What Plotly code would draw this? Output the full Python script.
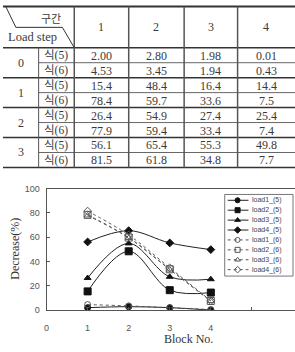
import plotly.graph_objects as go

# ---------------- data ----------------
blocks = [1, 2, 3, 4]
block_headers = ["1", "2", "3", "4"]
load_steps = ["0", "1", "2", "3"]
formula_labels = ["식(5)", "식(6)"]
corner_top = "구간"
corner_bottom = "Load step"

load1_eq5 = [2.00, 2.80, 1.98, 0.01]
load2_eq5 = [15.4, 48.4, 16.4, 14.4]
load3_eq5 = [26.4, 54.9, 27.4, 25.4]
load4_eq5 = [56.1, 65.4, 55.3, 49.8]
load1_eq6 = [4.53, 3.45, 1.94, 0.43]
load2_eq6 = [78.4, 59.7, 33.6, 7.5]
load3_eq6 = [77.9, 59.4, 33.4, 7.4]
load4_eq6 = [81.5, 61.8, 34.8, 7.7]

series_names = ["load1_(5)", "load2_(5)", "load3_(5)", "load4_(5)",
                "load1_(6)", "load2_(6)", "load3_(6)", "load4_(6)"]
series_values = [load1_eq5, load2_eq5, load3_eq5, load4_eq5,
                 load1_eq6, load2_eq6, load3_eq6, load4_eq6]
row_decimals = [2, 1, 1, 1]

x_ticks = [0, 1, 2, 3, 4, 5]
x_ticktext = ["0", "1", "2", "3", "4", ""]
y_ticks = [0, 20, 40, 60, 80, 100]

# ---------------- styles ----------------
W, H = 295, 352
symbols_eq5 = ["circle", "square", "triangle-up", "diamond"]
symbols_eq6 = ["circle-open", "square-open", "triangle-up-open", "diamond-open"]
sizes = [6, 7, 6, 6]
SERIF = "Liberation Serif, Noto Sans CJK KR, serif"
SANS = "Liberation Sans, Arial, sans-serif"
line_dark = "#222222"
line_dot = "#555555"
table_text = "#3a3a3a"

fig = go.Figure()

# main chart traces
for i, (name, vals) in enumerate(zip(series_names, series_values)):
    eq5 = i < 4
    k = i % 4
    fig.add_trace(go.Scatter(
        x=blocks, y=vals, name=name, mode="lines+markers",
        line=dict(shape="spline", smoothing=1.0, width=1,
                  color=line_dark if eq5 else line_dot,
                  dash="solid" if eq5 else "dot"),
        marker=dict(symbol=symbols_eq5[k] if eq5 else symbols_eq6[k],
                    size=sizes[k],
                    color="#111111" if eq5 else "#555555",
                    line=dict(width=1, color="#111111" if eq5 else "#555555")),
        xaxis="x", yaxis="y", showlegend=False))

# ---------------- pixel overlay axis (for table + legend) ----------------
shapes = []
annotations = []


def hline(y, x0, x1, w=1, c="#444444"):
    shapes.append(dict(type="line", xref="x2", yref="y2", x0=x0, x1=x1, y0=y, y1=y,
                       line=dict(color=c, width=w)))


def vline(x, y0, y1, w=1, c="#444444"):
    shapes.append(dict(type="line", xref="x2", yref="y2", x0=x, x1=x, y0=y0, y1=y1,
                       line=dict(color=c, width=w)))


def text(x, y, s, size=12, family=SERIF, color=table_text, xanchor="center"):
    annotations.append(dict(xref="x2", yref="y2", x=x, y=y, text=s, showarrow=False,
                            xanchor=xanchor, yanchor="middle",
                            font=dict(size=size, family=family, color=color)))


# table geometry
t_top, t_head = 1.5, 44.0
row_h = 15.4
col_edges = [0, 36, 72, 127, 183, 237, 295]
n_rows = 8
t_bot = t_head + row_h * n_rows

hline(t_top, 0, W, 2, "#333333")
hline(t_head, 0, W, 1.5, "#333333")
for r in range(1, n_rows + 1):
    y = t_head + r * row_h
    if r % 2 == 0:
        hline(y, 0, W, 1.5, "#333333")
    else:
        hline(y, col_edges[1], W, 1, "#666666")
vline(col_edges[1], t_head, t_bot, 1, "#555555")
for cx in col_edges[2:6]:
    vline(cx, t_top, t_bot, 1.5, "#555555")

# split header
shapes.append(dict(type="path", xref="x2", yref="y2",
                   path="M 3,2 L 13,23 L 60,23 L 72,44",
                   line=dict(color="#333333", width=1)))
text(48, 14, corner_top, size=11)
text(30, 33, corner_bottom, size=12.5)

for j, h in enumerate(block_headers):
    text((col_edges[j + 2] + col_edges[j + 3]) / 2, 23, h, size=12)

eq5_rows = [load1_eq5, load2_eq5, load3_eq5, load4_eq5]
eq6_rows = [load1_eq6, load2_eq6, load3_eq6, load4_eq6]
for g, step in enumerate(load_steps):
    y0 = t_head + g * 2 * row_h
    text(18, y0 + row_h, step, size=12)
    for s, rows in enumerate([eq5_rows, eq6_rows]):
        yc = y0 + s * row_h + row_h / 2 + 0.5
        text(54, yc, formula_labels[s], size=11.5)
        for j, v in enumerate(rows[g]):
            text((col_edges[j + 2] + col_edges[j + 3]) / 2, yc,
                 f"{v:.{row_decimals[g]}f}", size=12)

# legend (drawn on pixel axis)
lg_x0, lg_x1, lg_y0, lg_y1 = 224, 293, 195, 279
shapes.append(dict(type="rect", xref="x2", yref="y2", x0=lg_x0, x1=lg_x1, y0=lg_y0, y1=lg_y1,
                   line=dict(color="#777777", width=1), fillcolor="rgba(0,0,0,0)"))
lg_step = 10.2
for i, name in enumerate(series_names):
    eq5 = i < 4
    k = i % 4
    yc = lg_y0 + 6 + i * lg_step
    fig.add_trace(go.Scatter(
        x=[227, 237, 248], y=[yc, yc, yc], mode="lines",
        line=dict(width=1, color=line_dark if eq5 else line_dot,
                  dash="solid" if eq5 else "dot"),
        xaxis="x2", yaxis="y2", showlegend=False, hoverinfo="skip"))
    fig.add_trace(go.Scatter(
        x=[237], y=[yc], mode="markers",
        marker=dict(symbol=symbols_eq5[k] if eq5 else symbols_eq6[k], size=5,
                    color="#111111" if eq5 else "#555555",
                    line=dict(width=1, color="#111111" if eq5 else "#555555")),
        xaxis="x2", yaxis="y2", showlegend=False, hoverinfo="skip"))
    text(250, yc, name, size=7, family=SANS, color="#444444", xanchor="left")

# axis titles
annotations.append(dict(xref="paper", yref="paper", x=187 / W, y=1 - 344 / H,
                        text="Block No.", showarrow=False, xanchor="center", yanchor="middle",
                        font=dict(size=12, family=SERIF, color="#333333")))
annotations.append(dict(xref="paper", yref="paper", x=12 / W, y=1 - 251 / H,
                        text="Decrease(%)", textangle=-90, showarrow=False,
                        xanchor="center", yanchor="middle",
                        font=dict(size=12, family=SERIF, color="#333333")))

fig.update_layout(
    width=W, height=H, margin=dict(l=0, r=0, t=0, b=0),
    paper_bgcolor="white", plot_bgcolor="rgba(0,0,0,0)",
    showlegend=False, shapes=shapes, annotations=annotations,
    xaxis=dict(domain=[44 / W, 1], range=[0, 6.05], tickvals=x_ticks, ticktext=x_ticktext,
               ticks="inside", ticklen=3, tickcolor="#555555", showline=True,
               linecolor="#555555", linewidth=1, mirror=True, showgrid=False,
               zeroline=False, tickfont=dict(size=9, family=SANS, color="#555555"),
               ticklabelstandoff=9),
    yaxis=dict(domain=[(H - 314) / H, (H - 189) / H], range=[0, 100], tickvals=y_ticks,
               ticks="inside", ticklen=3, tickcolor="#555555", showline=True,
               linecolor="#555555", linewidth=1, showgrid=False, zeroline=False,
               tickfont=dict(size=9, family=SANS, color="#555555"), ticklabelstandoff=4),
    xaxis2=dict(domain=[0, 1], range=[0, W], visible=False, fixedrange=True,
                anchor="y2"),
    yaxis2=dict(domain=[0, 1], range=[H, 0], visible=False, fixedrange=True,
                anchor="x2"),
)

fig.write_html("out.html")
